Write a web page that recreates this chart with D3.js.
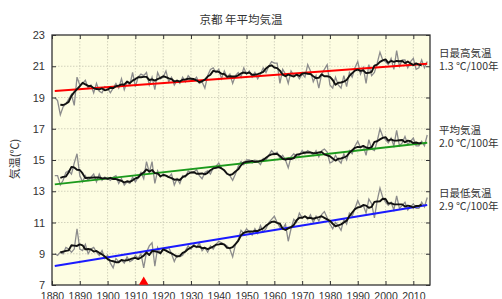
<!DOCTYPE html>
<html>
<head>
<meta charset="utf-8">
<script src="https://cdn.jsdelivr.net/npm/d3@7"></script>
<style>
  body { margin: 0; background: #fff; }
  text { font-family: "Liberation Sans", Arial, "Noto Sans CJK JP", sans-serif; fill: #333; }
  .jp { font-family: "Noto Sans CJK JP", sans-serif; }
</style>
</head>
<body>
<div id="chart"></div>
<script>
// 京都 年平均気温 1881-2015
var firstYear = 1881;

// annual mean of daily max
var tmax = [
  19.0, 18.8, 17.9, 18.4, 18.6, 18.9, 19.2, 18.5, 20.3, 19.8,
  19.9, 20.1, 19.6, 19.8, 19.3, 19.9, 19.4, 19.3, 19.7, 19.6,
  19.3, 19.6, 19.9, 19.6, 20.2, 19.5, 20.0, 19.8, 20.6, 19.7,
  20.3, 20.5, 20.4, 20.6, 19.8, 20.3, 19.5, 20.6, 20.2, 20.3,
  20.7, 20.0, 20.3, 19.8, 20.1, 19.9, 20.3, 20.0, 20.4, 20.2,
  20.1, 20.3, 19.9, 20.0, 19.6, 20.4, 20.8, 20.9, 20.6, 20.8,
  20.2, 20.7, 20.3, 20.5, 19.9, 20.4, 20.6, 20.3, 20.9, 20.5,
  20.7, 20.3, 20.6, 20.2, 20.5, 20.9, 20.6, 21.0, 21.3, 21.2,
  21.2, 19.9, 20.8, 20.5, 19.9, 20.7, 20.4, 20.5, 20.2, 20.5,
  20.3, 21.1, 20.7, 20.0, 20.4, 19.6, 20.5, 20.8, 21.1, 19.8,
  19.6, 20.3, 19.8, 19.6, 20.4, 19.7, 20.6, 20.3, 20.9, 21.3,
  20.5, 20.9, 19.9, 21.1, 20.4, 20.6, 21.2, 21.9, 21.4, 21.3,
  21.1, 21.5, 20.8, 22.0, 21.0, 21.4, 21.4, 20.9, 21.3, 21.5,
  20.8, 20.9, 21.4, 20.9, 21.3
];

// annual mean temperature
var tmean = [
  14.0, 14.0, 13.4, 13.7, 14.2, 14.3, 14.1, 14.8, 15.4, 14.0,
  13.6, 14.0, 13.7, 13.9, 14.1, 13.6, 14.1, 13.7, 13.9, 13.8,
  13.7, 13.9, 14.0, 13.5, 13.8, 13.4, 13.6, 13.5, 13.9, 13.6,
  13.9, 14.2, 13.8, 14.9, 14.2, 14.9, 13.5, 14.3, 13.9, 14.1,
  14.0, 13.9, 14.1, 13.4, 13.8, 13.5, 14.0, 13.9, 14.3, 14.2,
  14.2, 14.4, 14.0, 13.8, 14.2, 14.3, 14.1, 14.5, 14.6, 14.8,
  14.5, 14.3, 14.1, 14.0, 13.7, 14.1, 14.6, 14.9, 14.7, 15.0,
  15.0, 14.8, 15.0, 14.9, 14.7, 15.1, 15.0, 15.3, 15.6, 15.4,
  15.5, 15.1, 15.3, 15.0, 14.5, 15.2, 15.4, 15.2, 15.3, 15.6,
  15.4, 15.6, 15.5, 15.3, 15.6, 15.2, 15.6, 15.7, 15.5, 14.8,
  14.9, 15.3, 15.0, 14.8, 15.4, 15.0, 15.6, 15.4, 15.9, 16.2,
  15.8, 15.9, 15.3, 16.3, 15.7, 15.6, 16.2, 17.0, 16.5, 16.3,
  16.1, 16.4, 15.9, 16.9, 15.9, 16.1, 16.5, 16.0, 16.2, 16.4,
  15.9, 15.9, 16.2, 15.9, 16.6
];

// annual mean of daily min
var tmin = [
  9.0, 8.9, 9.1, 9.0, 9.4, 9.3, 9.1, 9.3, 10.6, 9.3,
  9.2, 9.6, 9.0, 9.3, 9.4, 9.1, 8.9, 9.2, 8.7, 8.9,
  8.4, 8.1, 8.7, 8.5, 8.6, 8.4, 8.8, 8.5, 8.6, 8.9,
  8.7, 9.0, 8.1, 9.1, 9.5, 9.7, 8.2, 9.4, 9.0, 9.3,
  9.3, 9.4, 9.0, 8.5, 8.9, 8.8, 8.9, 9.2, 9.5, 9.3,
  9.6, 9.4, 9.7, 9.2, 9.4, 9.1, 9.5, 9.3, 9.6, 9.8,
  9.7, 9.6, 9.5, 9.3, 8.8, 9.6, 9.9, 10.5, 10.3, 10.6,
  10.4, 10.2, 10.6, 10.3, 10.8, 10.4, 10.6, 11.0, 11.2, 11.4,
  11.0, 10.7, 10.6, 10.9, 9.8, 10.6, 11.2, 11.0, 11.6, 11.3,
  11.4, 11.2, 11.5, 11.0, 11.4, 11.1, 11.5, 11.7, 11.3, 10.9,
  10.6, 11.0, 10.8, 10.5, 11.2, 10.9, 11.6, 11.4, 11.9, 12.4,
  12.0, 12.1, 11.6, 12.5, 12.2, 11.3, 12.4, 13.2, 12.6, 12.3,
  12.1, 12.3, 11.8, 12.7, 11.9, 12.1, 12.3, 11.8, 12.0, 12.2,
  11.9, 11.9, 12.3, 12.0, 12.6
];

// trend lines: value at 1881 and at 2015
var trendYears = [1881, 2015];
var trendMax = [19.42, 21.16];
var trendMean = [13.44, 16.11];
var trendMin = [8.22, 12.12];

var seriesNames = ["日最高気温", "平均気温", "日最低気温"];
var trendLabels = ["1.3 ℃/100年", "2.0 ℃/100年", "2.9 ℃/100年"];
var trendColors = ["#ff0000", "#1c9a1c", "#1a1aff"];

var yTicks = [7, 9, 11, 13, 15, 17, 19, 21, 23];
var xTicks = d3.range(1880, 2011, 10);
var markerYears = [1913];

// svg container
var svgWidth = 502;
var svgHeight = 299;

var plot = { left: 52, right: 430, top: 35, bottom: 285 };

var svg = d3.select("#chart").append("svg")
  .attr("width", svgWidth)
  .attr("height", svgHeight);

var xScale = d3.scaleLinear().domain([1880, 2016]).range([plot.left, plot.right]);
var yScale = d3.scaleLinear().domain([7, 23]).range([plot.bottom, plot.top]);

// background
svg.append("rect")
  .attr("x", plot.left).attr("y", plot.top)
  .attr("width", plot.right - plot.left).attr("height", plot.bottom - plot.top)
  .attr("fill", "#fdfde2");

svg.append("clipPath").attr("id", "clip")
  .append("rect")
  .attr("x", plot.left).attr("y", plot.top)
  .attr("width", plot.right - plot.left).attr("height", plot.bottom - plot.top);

// grid
var grid = svg.append("g").attr("stroke", "#c8c8b4").attr("stroke-width", 0.8).attr("stroke-dasharray", "1.5,1.5");
grid.selectAll(".vg").data(xTicks.slice(1)).enter().append("line")
  .attr("x1", d => xScale(d)).attr("x2", d => xScale(d))
  .attr("y1", plot.top).attr("y2", plot.bottom);
grid.selectAll(".hg").data(yTicks.slice(1, -1)).enter().append("line")
  .attr("x1", plot.left).attr("x2", plot.right)
  .attr("y1", d => yScale(d)).attr("y2", d => yScale(d));

// 5-year centered moving average
function movingAvg(values) {
  var out = [];
  for (var i = 2; i < values.length - 2; i++) {
    out.push({ year: firstYear + i, v: d3.mean(values.slice(i - 2, i + 3)) });
  }
  return out;
}

function toPoints(values) {
  return values.map((v, i) => ({ year: firstYear + i, v: v }));
}

var line = d3.line().x(d => xScale(d.year)).y(d => yScale(d.v));

var lines = svg.append("g").attr("clip-path", "url(#clip)");
var allSeries = [tmax, tmean, tmin];
var trends = [trendMax, trendMean, trendMin];

allSeries.forEach(function(vals) {
  lines.append("path")
    .datum(toPoints(vals))
    .attr("fill", "none")
    .attr("stroke", "#8c8c8c")
    .attr("stroke-width", 1.3)
    .attr("d", line);
});

trends.forEach(function(tr, k) {
  lines.append("path")
    .datum(trendYears.map((y, i) => ({ year: y, v: tr[i] })))
    .attr("fill", "none")
    .attr("stroke", trendColors[k])
    .attr("stroke-width", 2)
    .attr("d", line);
});

allSeries.forEach(function(vals) {
  lines.append("path")
    .datum(movingAvg(vals))
    .attr("fill", "none")
    .attr("stroke", "#111")
    .attr("stroke-width", 1.9)
    .attr("stroke-linejoin", "round")
    .attr("d", line);
});

// frame
svg.append("rect")
  .attr("x", plot.left).attr("y", plot.top)
  .attr("width", plot.right - plot.left).attr("height", plot.bottom - plot.top)
  .attr("fill", "none").attr("stroke", "#333").attr("stroke-width", 1.3);

// axes
var xAxis = d3.axisBottom(xScale).tickValues(xTicks).tickSize(-4).tickPadding(6).tickFormat(d3.format("d"));
var xTop = d3.axisTop(xScale).tickValues(xTicks).tickSize(-4).tickFormat("");
var yAxis = d3.axisLeft(yScale).tickValues(yTicks).tickSize(-4).tickPadding(7);
var yRight = d3.axisRight(yScale).tickValues(yTicks).tickSize(-4).tickFormat("");

function styleAxis(g) {
  g.select(".domain").remove();
  g.selectAll(".tick line").attr("stroke", "#333");
  g.selectAll(".tick text").attr("fill", "#333").style("font-size", "11px");
}

svg.append("g").attr("transform", `translate(0, ${plot.bottom})`).call(xAxis).call(styleAxis)
  .selectAll(".tick text").style("font-size", "10.5px").attr("dy", "0.85em");
svg.append("g").attr("transform", `translate(0, ${plot.top})`).call(xTop).call(styleAxis);
svg.append("g").attr("transform", `translate(${plot.left}, 0)`).call(yAxis).call(styleAxis);
svg.append("g").attr("transform", `translate(${plot.right}, 0)`).call(yRight).call(styleAxis);

// marker triangle
svg.selectAll(".marker").data(markerYears).enter().append("path")
  .attr("d", d3.symbol().type(d3.symbolTriangle).size(40))
  .attr("transform", d => `translate(${xScale(d)}, ${plot.bottom - 3})`)
  .attr("fill", "#ff0000");

// title
svg.append("text")
  .attr("class", "jp")
  .attr("x", 241).attr("y", 24)
  .attr("text-anchor", "middle")
  .style("font-size", "11.5px")
  .text("京都 年平均気温");

// y axis label
svg.append("text")
  .attr("class", "jp")
  .attr("transform", "translate(19, 159) rotate(-90)")
  .attr("text-anchor", "middle")
  .style("font-size", "11px")
  .text("気温(℃)");

// right side labels
var labelY = [57, 134, 197];
seriesNames.forEach(function(name, k) {
  var t = svg.append("text").attr("class", "jp").attr("x", 439).attr("y", labelY[k]).style("font-size", "10.5px");
  t.append("tspan").attr("x", 439).text(name);
  t.append("tspan").attr("x", 439).attr("dy", 12.5).text(trendLabels[k]);
});
</script>
</body>
</html>
